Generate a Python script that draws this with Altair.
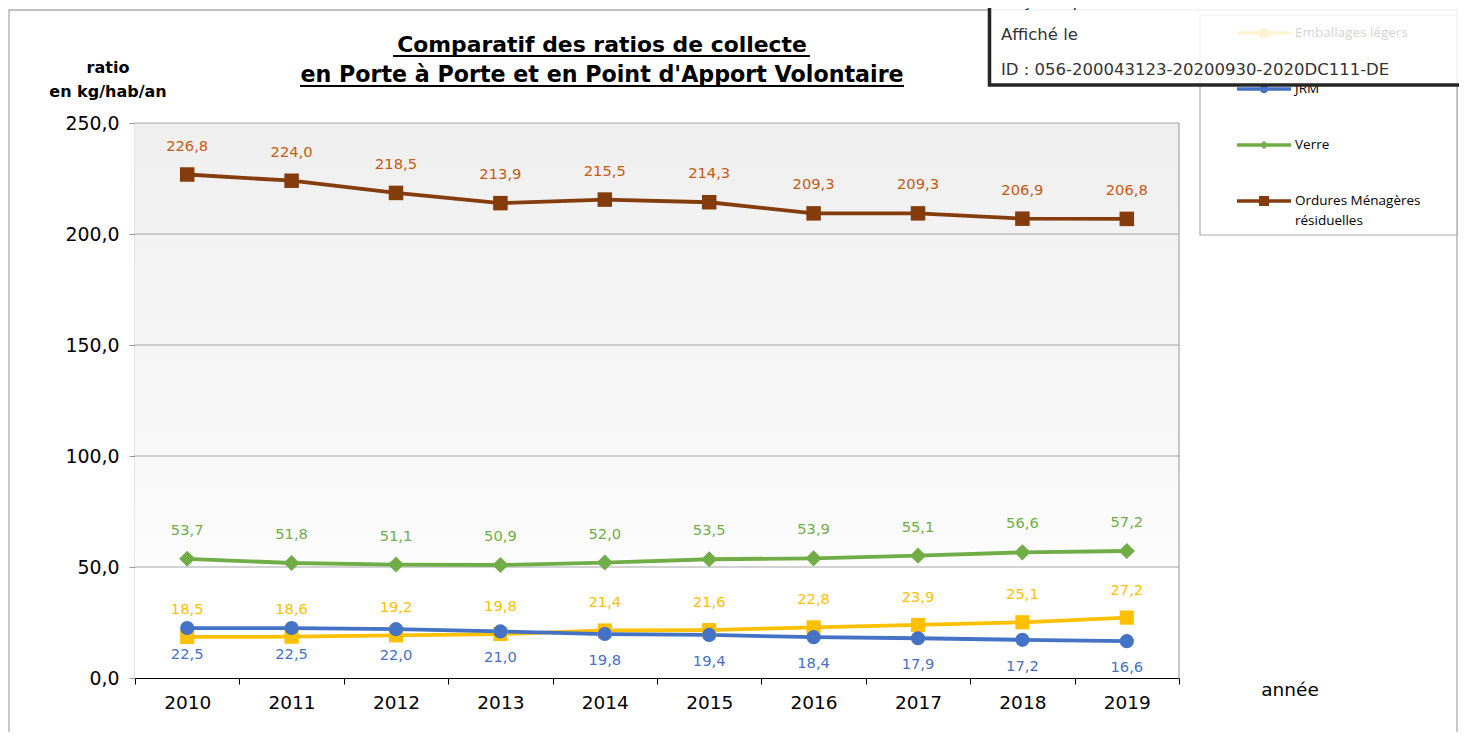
import altair as alt
import pandas as pd

# ---------------- data ----------------
years = ["2010", "2011", "2012", "2013", "2014", "2015", "2016", "2017", "2018", "2019"]
emballages = [18.5, 18.6, 19.2, 19.8, 21.4, 21.6, 22.8, 23.9, 25.1, 27.2]
jrm = [22.5, 22.5, 22.0, 21.0, 19.8, 19.4, 18.4, 17.9, 17.2, 16.6]
verre = [53.7, 51.8, 51.1, 50.9, 52.0, 53.5, 53.9, 55.1, 56.6, 57.2]
om = [226.8, 224.0, 218.5, 213.9, 215.5, 214.3, 209.3, 209.3, 206.9, 206.8]

series_names = ["Emballages légers", "JRM", "Verre", "Ordures Ménagères résiduelles"]
legend_labels = [["Emballages légers"], ["JRM"], ["Verre"], ["Ordures Ménagères", "résiduelles"]]
y_ticks = [0, 50, 100, 150, 200, 250]

title_lines = ["Comparatif des ratios de collecte", "en Porte à Porte et en Point d'Apport Volontaire"]
y_title = ["ratio", "en kg/hab/an"]
x_title = "année"
stamp_lines = ["Reçu en préfecture le 14/10/2020", "Affiché le", "ID : 056-200043123-20200930-2020DC111-DE"]

# ---------------- styles ----------------
styles = {
    "Emballages légers": dict(line="#FFC000", label="#FFC000", shape="square", size=200, dy=-27, lsize=90),
    "JRM": dict(line="#4472C4", label="#4472C4", shape="circle", size=200, dy=27, lsize=70),
    "Verre": dict(line="#70AD47", label="#70AD47", shape="diamond", size=260, dy=-28, lsize=70),
    "Ordures Ménagères résiduelles": dict(line="#843C0C", label="#C55A11", shape="square", size=210, dy=-28, lsize=100),
}

W, H = 1044, 555
FONT = "DejaVu Sans"

rows = []
for name, vals in zip(series_names, [emballages, jrm, verre, om]):
    for yr, v in zip(years, vals):
        rows.append({"year": yr, "serie": name, "value": v})
df = pd.DataFrame(rows)

one = pd.DataFrame({"a": [0]})

X = alt.X(
    "year:O",
    scale=alt.Scale(type="band", paddingInner=0, paddingOuter=0),
    axis=alt.Axis(
        title=None, labelAngle=0, tickBand="extent", grid=False,
        labelFont=FONT, labelFontSize=18.5, labelColor="#000000", labelPadding=9,
        tickColor="#000000", tickSize=6, domainColor="#000000", domainWidth=1.2,
    ),
)
Y_AXIS = alt.Axis(
    title=None, values=y_ticks, grid=False,
    labelExpr="replace(format(datum.value, '.1f'), '.', ',')",
    labelFont=FONT, labelFontSize=18.9, labelColor="#000000", labelPadding=10,
    tickColor="#999999", tickSize=6, domainColor="#000000", domainWidth=1.2,
)
Y_SCALE = alt.Scale(domain=[0, 250], nice=False, zero=True)
Y = alt.Y("value:Q", scale=Y_SCALE, axis=Y_AXIS)

layers = []

# outer frame of the chart object
layers.append(
    alt.Chart(one).mark_rect(fill=None, stroke="#ABABAB", strokeWidth=1.3).encode(
        x=alt.value(-126), x2=alt.value(1322), y=alt.value(-113), y2=alt.value(640)
    )
)

# plot background gradient
grad = alt.LinearGradient(
    gradient="linear",
    stops=[
        alt.GradientStop(offset=0, color="#EFEFEF"),
        alt.GradientStop(offset=0.55, color="#F7F7F7"),
        alt.GradientStop(offset=0.78, color="#FCFCFC"),
        alt.GradientStop(offset=0.8, color="#FFFFFF"),
        alt.GradientStop(offset=1, color="#FFFFFF"),
    ],
    x1=0, x2=0, y1=0, y2=1,
)
layers.append(
    alt.Chart(one).mark_rect(fill=grad).encode(
        x=alt.value(0), x2=alt.value(W), y=alt.value(0), y2=alt.value(H)
    )
)

# grid lines (same y field / scale / axis so that the axis is kept)
layers.append(
    alt.Chart(pd.DataFrame({"value": y_ticks[1:]})).mark_rule(color="#A6A6A6", strokeWidth=1.2).encode(y=Y)
)
# right border of plot
layers.append(
    alt.Chart(one).mark_rule(color="#A6A6A6", strokeWidth=1.2).encode(
        x=alt.value(W), y=alt.value(0), y2=alt.value(H)
    )
)

# series
label_expr = "replace(format(datum.value, '.1f'), '.', ',')"
for name in series_names:
    st = styles[name]
    base = alt.Chart(df).transform_filter(alt.datum.serie == name)
    layers.append(base.mark_line(color=st["line"], strokeWidth=3.8).encode(x=X, y=Y))
for name in series_names:
    st = styles[name]
    base = alt.Chart(df).transform_filter(alt.datum.serie == name)
    layers.append(
        base.mark_point(shape=st["shape"], filled=True, size=st["size"], color=st["line"], opacity=1).encode(x=X, y=Y)
    )
    layers.append(
        base.transform_calculate(lab=label_expr)
        .mark_text(dy=st["dy"], font=FONT, fontSize=14.7, color=st["label"], baseline="middle")
        .encode(x=X, y=Y, text="lab:N")
    )

# axis titles
layers.append(
    alt.Chart(one).mark_text(text=y_title, font=FONT, fontSize=16, fontWeight="bold", lineHeight=24,
                             align="center", baseline="middle", color="#000000").encode(
        x=alt.value(-27), y=alt.value(-55)
    )
)
layers.append(
    alt.Chart(one).mark_text(text=x_title, font=FONT, fontSize=18.5, align="center", baseline="middle",
                             color="#000000").encode(x=alt.value(1155), y=alt.value(567))
)

# title with underline
title_y = [-71, -41]
title_size = [21.9, 22.2]
underline_x = [(258, 675), (165, 769)]
for line, ty, fs, (ux1, ux2) in zip(title_lines, title_y, title_size, underline_x):
    layers.append(
        alt.Chart(one).mark_text(text=line, font=FONT, fontSize=fs, fontWeight="bold", align="center",
                                 baseline="alphabetic", color="#000000").encode(x=alt.value(467), y=alt.value(ty))
    )
    layers.append(
        alt.Chart(one).mark_rule(color="#000000", strokeWidth=2).encode(
            x=alt.value(ux1), x2=alt.value(ux2), y=alt.value(ty + 4)
        )
    )

# legend box
layers.append(
    alt.Chart(one).mark_rect(fill="#FFFFFF", stroke="#ABABAB", strokeWidth=1.2).encode(
        x=alt.value(1065), x2=alt.value(1322), y=alt.value(-108), y2=alt.value(112)
    )
)
legend_y = [-90, -34, 22, 78]
for name, lab, ly in zip(series_names, legend_labels, legend_y):
    st = styles[name]
    layers.append(
        alt.Chart(one).mark_rule(color=st["line"], strokeWidth=3.3).encode(
            x=alt.value(1102), x2=alt.value(1156), y=alt.value(ly)
        )
    )
    layers.append(
        alt.Chart(one).mark_point(shape=st["shape"], filled=True, size=st["lsize"], color=st["line"], opacity=1).encode(
            x=alt.value(1129), y=alt.value(ly)
        )
    )
    layers.append(
        alt.Chart(one).mark_text(text=lab if len(lab) > 1 else lab[0], font="Open Sans", fontSize=13.5, lineHeight=20,
                                 align="left", baseline="middle", color="#000000").encode(
            x=alt.value(1160), y=alt.value(ly)
        )
    )

# stamp box
layers.append(
    alt.Chart(one).mark_rect(fill="#FFFFFF", fillOpacity=0.82, stroke="#262626", strokeWidth=3.5).encode(
        x=alt.value(854.5), x2=alt.value(1360), y=alt.value(-150), y2=alt.value(-38)
    )
)
for txt, sy in zip(stamp_lines, [-121, -88, -53]):
    layers.append(
        alt.Chart(one).mark_text(text=txt, font=FONT, fontSize=16.5, align="left", baseline="middle",
                                 color="#333333").encode(x=alt.value(866), y=alt.value(sy))
    )

chart = alt.layer(*layers).properties(
    width=W, height=H,
    autosize=alt.AutoSizeParams(type="none"),
    padding={"left": 127, "top": 115, "right": 280, "bottom": 54},
    background="#FFFFFF",
).configure_view(stroke=None)

chart.save("out.html", embed_options={"renderer": "svg", "actions": False})
